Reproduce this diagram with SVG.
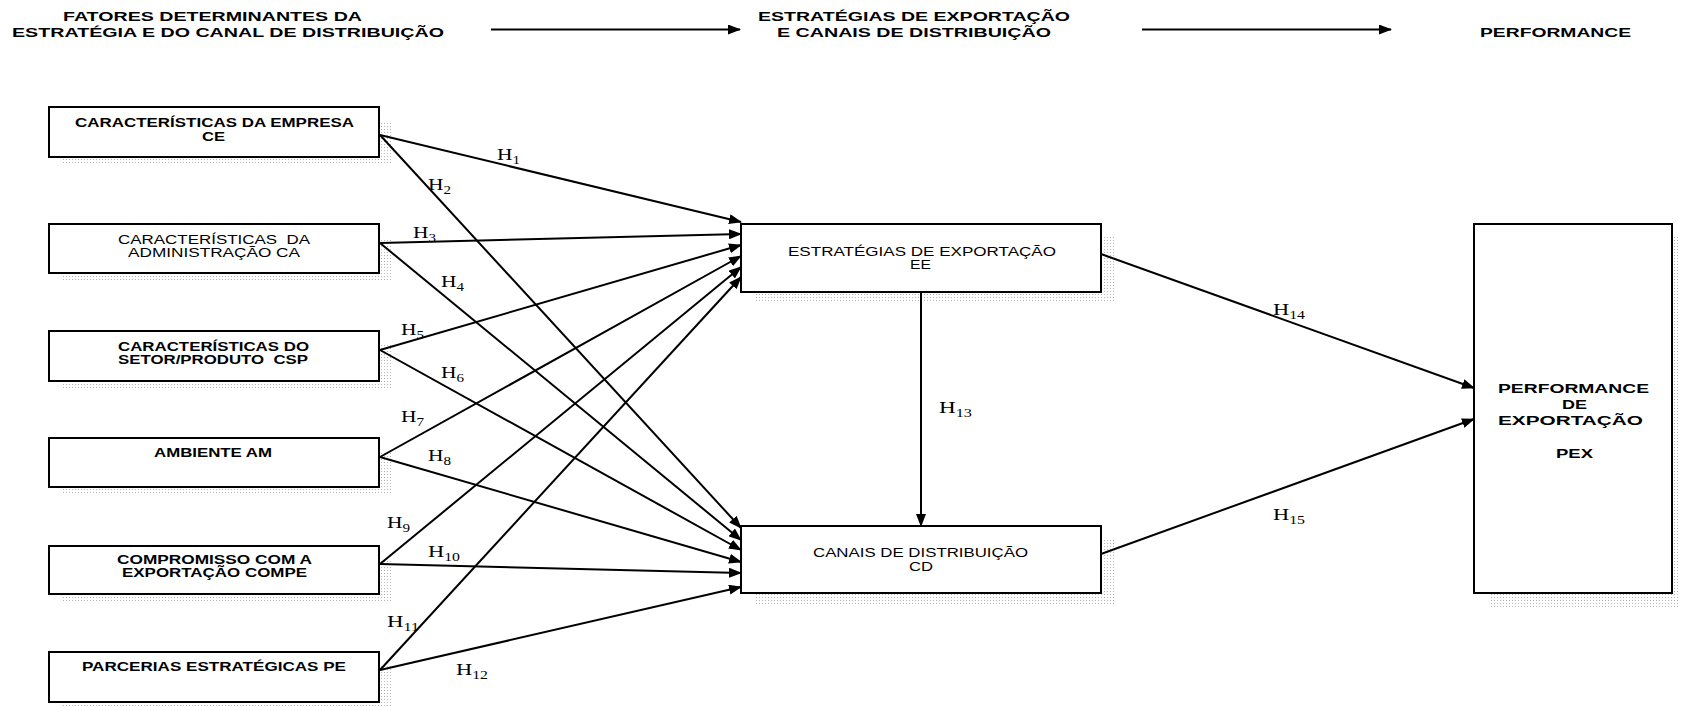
<svg xmlns="http://www.w3.org/2000/svg" width="1682" height="707" viewBox="0 0 1682 707">
<defs>
<style>
.bx{fill:#fff;stroke:#000;stroke-width:2}
.sh{fill:url(#dots)}
.b{font-family:"Liberation Sans",Arial,sans-serif;font-weight:bold;font-size:13.5px;fill:#000}
.r{font-family:"Liberation Sans",Arial,sans-serif;font-size:12.5px;fill:#000}
.hd{font-family:"Liberation Sans",Arial,sans-serif;font-weight:bold;font-size:12.5px;fill:#000}
.h{font-family:"Liberation Serif","Times New Roman",serif;font-size:17px;fill:#000}
.s{font-size:12px}
.ln{stroke:#000;stroke-width:2;fill:none;marker-end:url(#ah)}
</style>
<pattern id="dots" width="3" height="3" patternUnits="userSpaceOnUse">
<rect x="0" y="0" width="1" height="1" fill="#b4b4b4"/>
</pattern>
<marker id="ah" markerWidth="13" markerHeight="10" refX="12" refY="5" orient="auto" markerUnits="userSpaceOnUse">
<path d="M0,0 L13,5 L0,10 z" fill="#000"/>
</marker>
</defs>
<rect width="1682" height="707" fill="#fff"/>

<g id="headers">
<text class="hd" x="63" y="20.5" textLength="299" lengthAdjust="spacingAndGlyphs">FATORES DETERMINANTES DA</text>
<text class="hd" x="12" y="36.5" textLength="432" lengthAdjust="spacingAndGlyphs">ESTRATÉGIA E DO CANAL DE DISTRIBUIÇÃO</text>
<text class="hd" x="758" y="20.5" textLength="312" lengthAdjust="spacingAndGlyphs">ESTRATÉGIAS DE EXPORTAÇÃO</text>
<text class="hd" x="777" y="36.5" textLength="274" lengthAdjust="spacingAndGlyphs">E CANAIS DE DISTRIBUIÇÃO</text>
<text class="hd" x="1480" y="36.5" textLength="151" lengthAdjust="spacingAndGlyphs">PERFORMANCE</text>
</g>

<g id="node-CE">
<rect class="sh" x="63" y="121" width="330" height="42"/>
<rect class="bx" x="49" y="107" width="330" height="50"/>
<text class="b" x="75" y="127" textLength="279" lengthAdjust="spacingAndGlyphs">CARACTERÍSTICAS DA EMPRESA</text>
<text class="b" x="202" y="141" textLength="23" lengthAdjust="spacingAndGlyphs">CE</text>
</g>
<g id="node-CA">
<rect class="sh" x="63" y="238" width="330" height="42"/>
<rect class="bx" x="49" y="224" width="330" height="49"/>
<text class="r" x="118" y="244" textLength="192" lengthAdjust="spacingAndGlyphs" xml:space="preserve">CARACTERÍSTICAS  DA</text>
<text class="r" x="128" y="257" textLength="172" lengthAdjust="spacingAndGlyphs">ADMINISTRAÇÃO CA</text>
</g>
<g id="node-CSP">
<rect class="sh" x="63" y="345" width="330" height="43"/>
<rect class="bx" x="49" y="331" width="330" height="50"/>
<text class="b" x="118" y="351" textLength="191" lengthAdjust="spacingAndGlyphs">CARACTERÍSTICAS DO</text>
<text class="b" x="118" y="364" textLength="190" lengthAdjust="spacingAndGlyphs" xml:space="preserve">SETOR/PRODUTO  CSP</text>
</g>
<g id="node-AM">
<rect class="sh" x="63" y="452" width="330" height="42"/>
<rect class="bx" x="49" y="438" width="330" height="49"/>
<text class="b" x="154" y="457" textLength="118" lengthAdjust="spacingAndGlyphs">AMBIENTE AM</text>
</g>
<g id="node-COMPE">
<rect class="sh" x="63" y="560" width="330" height="41"/>
<rect class="bx" x="49" y="546" width="330" height="48"/>
<text class="b" x="117" y="564" textLength="195" lengthAdjust="spacingAndGlyphs">COMPROMISSO COM A</text>
<text class="b" x="122" y="577" textLength="185" lengthAdjust="spacingAndGlyphs">EXPORTAÇÃO COMPE</text>
</g>
<g id="node-PE">
<rect class="sh" x="63" y="666" width="330" height="43"/>
<rect class="bx" x="49" y="652" width="330" height="50"/>
<text class="b" x="82" y="671" textLength="264" lengthAdjust="spacingAndGlyphs">PARCERIAS ESTRATÉGICAS PE</text>
</g>
<g id="node-EE">
<rect class="sh" x="756" y="237" width="360" height="65"/>
<rect class="bx" x="741" y="224" width="360" height="68"/>
<text class="r" x="788" y="256" textLength="268" lengthAdjust="spacingAndGlyphs">ESTRATÉGIAS DE EXPORTAÇÃO</text>
<text class="r" x="910" y="269" textLength="21" lengthAdjust="spacingAndGlyphs">EE</text>
</g>
<g id="node-CD">
<rect class="sh" x="756" y="539" width="360" height="65"/>
<rect class="bx" x="741" y="526" width="360" height="67"/>
<text class="r" x="813" y="557" textLength="215" lengthAdjust="spacingAndGlyphs">CANAIS DE DISTRIBUIÇÃO</text>
<text class="r" x="909" y="571" textLength="24" lengthAdjust="spacingAndGlyphs">CD</text>
</g>
<g id="node-PEX">
<rect class="sh" x="1489" y="237" width="191" height="370"/>
<rect class="bx" x="1474" y="224" width="198" height="369"/>
<text class="b" x="1498" y="393" textLength="151" lengthAdjust="spacingAndGlyphs">PERFORMANCE</text>
<text class="b" x="1562" y="409" textLength="25" lengthAdjust="spacingAndGlyphs">DE</text>
<text class="b" x="1498" y="425" textLength="145" lengthAdjust="spacingAndGlyphs">EXPORTAÇÃO</text>
<text class="b" x="1556" y="458" textLength="37" lengthAdjust="spacingAndGlyphs">PEX</text>
</g>

<g id="connectors">
<line class="ln" x1="491" y1="29.5" x2="740" y2="29.5"/>
<line class="ln" x1="1142" y1="29.5" x2="1391" y2="29.5"/>
<line class="ln" x1="380" y1="135" x2="741" y2="222"/>
<line class="ln" x1="380" y1="135" x2="741" y2="528"/>
<line class="ln" x1="380" y1="243" x2="741" y2="234"/>
<line class="ln" x1="380" y1="243" x2="741" y2="540"/>
<line class="ln" x1="380" y1="350" x2="741" y2="245"/>
<line class="ln" x1="380" y1="350" x2="741" y2="550"/>
<line class="ln" x1="380" y1="457" x2="741" y2="256"/>
<line class="ln" x1="380" y1="457" x2="741" y2="562"/>
<line class="ln" x1="380" y1="564" x2="741" y2="267"/>
<line class="ln" x1="380" y1="564" x2="741" y2="573"/>
<line class="ln" x1="380" y1="670" x2="741" y2="277"/>
<line class="ln" x1="380" y1="670" x2="741" y2="587"/>
<line class="ln" x1="921" y1="292" x2="921" y2="526"/>
<line class="ln" x1="1101" y1="254" x2="1474" y2="388"/>
<line class="ln" x1="1101" y1="554" x2="1474" y2="419"/>
</g>

<g id="labels">
<text class="h" x="497" y="160" textLength="23" lengthAdjust="spacingAndGlyphs">H<tspan class="s" dy="4">1</tspan></text>
<text class="h" x="428" y="190" textLength="23" lengthAdjust="spacingAndGlyphs">H<tspan class="s" dy="4">2</tspan></text>
<text class="h" x="413" y="238" textLength="23" lengthAdjust="spacingAndGlyphs">H<tspan class="s" dy="4">3</tspan></text>
<text class="h" x="441" y="287" textLength="23" lengthAdjust="spacingAndGlyphs">H<tspan class="s" dy="4">4</tspan></text>
<text class="h" x="401" y="335" textLength="23" lengthAdjust="spacingAndGlyphs">H<tspan class="s" dy="4">5</tspan></text>
<text class="h" x="441" y="378" textLength="23" lengthAdjust="spacingAndGlyphs">H<tspan class="s" dy="4">6</tspan></text>
<text class="h" x="401" y="422" textLength="23" lengthAdjust="spacingAndGlyphs">H<tspan class="s" dy="4">7</tspan></text>
<text class="h" x="428" y="461" textLength="23" lengthAdjust="spacingAndGlyphs">H<tspan class="s" dy="4">8</tspan></text>
<text class="h" x="387" y="528" textLength="23" lengthAdjust="spacingAndGlyphs">H<tspan class="s" dy="4">9</tspan></text>
<text class="h" x="428" y="557" textLength="32" lengthAdjust="spacingAndGlyphs">H<tspan class="s" dy="4">10</tspan></text>
<text class="h" x="387" y="627" textLength="32" lengthAdjust="spacingAndGlyphs">H<tspan class="s" dy="4">11</tspan></text>
<text class="h" x="456" y="675" textLength="32" lengthAdjust="spacingAndGlyphs">H<tspan class="s" dy="4">12</tspan></text>
<text class="h" x="939" y="413" textLength="33" lengthAdjust="spacingAndGlyphs">H<tspan class="s" dy="4">13</tspan></text>
<text class="h" x="1273" y="315" textLength="32" lengthAdjust="spacingAndGlyphs">H<tspan class="s" dy="4">14</tspan></text>
<text class="h" x="1273" y="520" textLength="32" lengthAdjust="spacingAndGlyphs">H<tspan class="s" dy="4">15</tspan></text>
</g>
</svg>
